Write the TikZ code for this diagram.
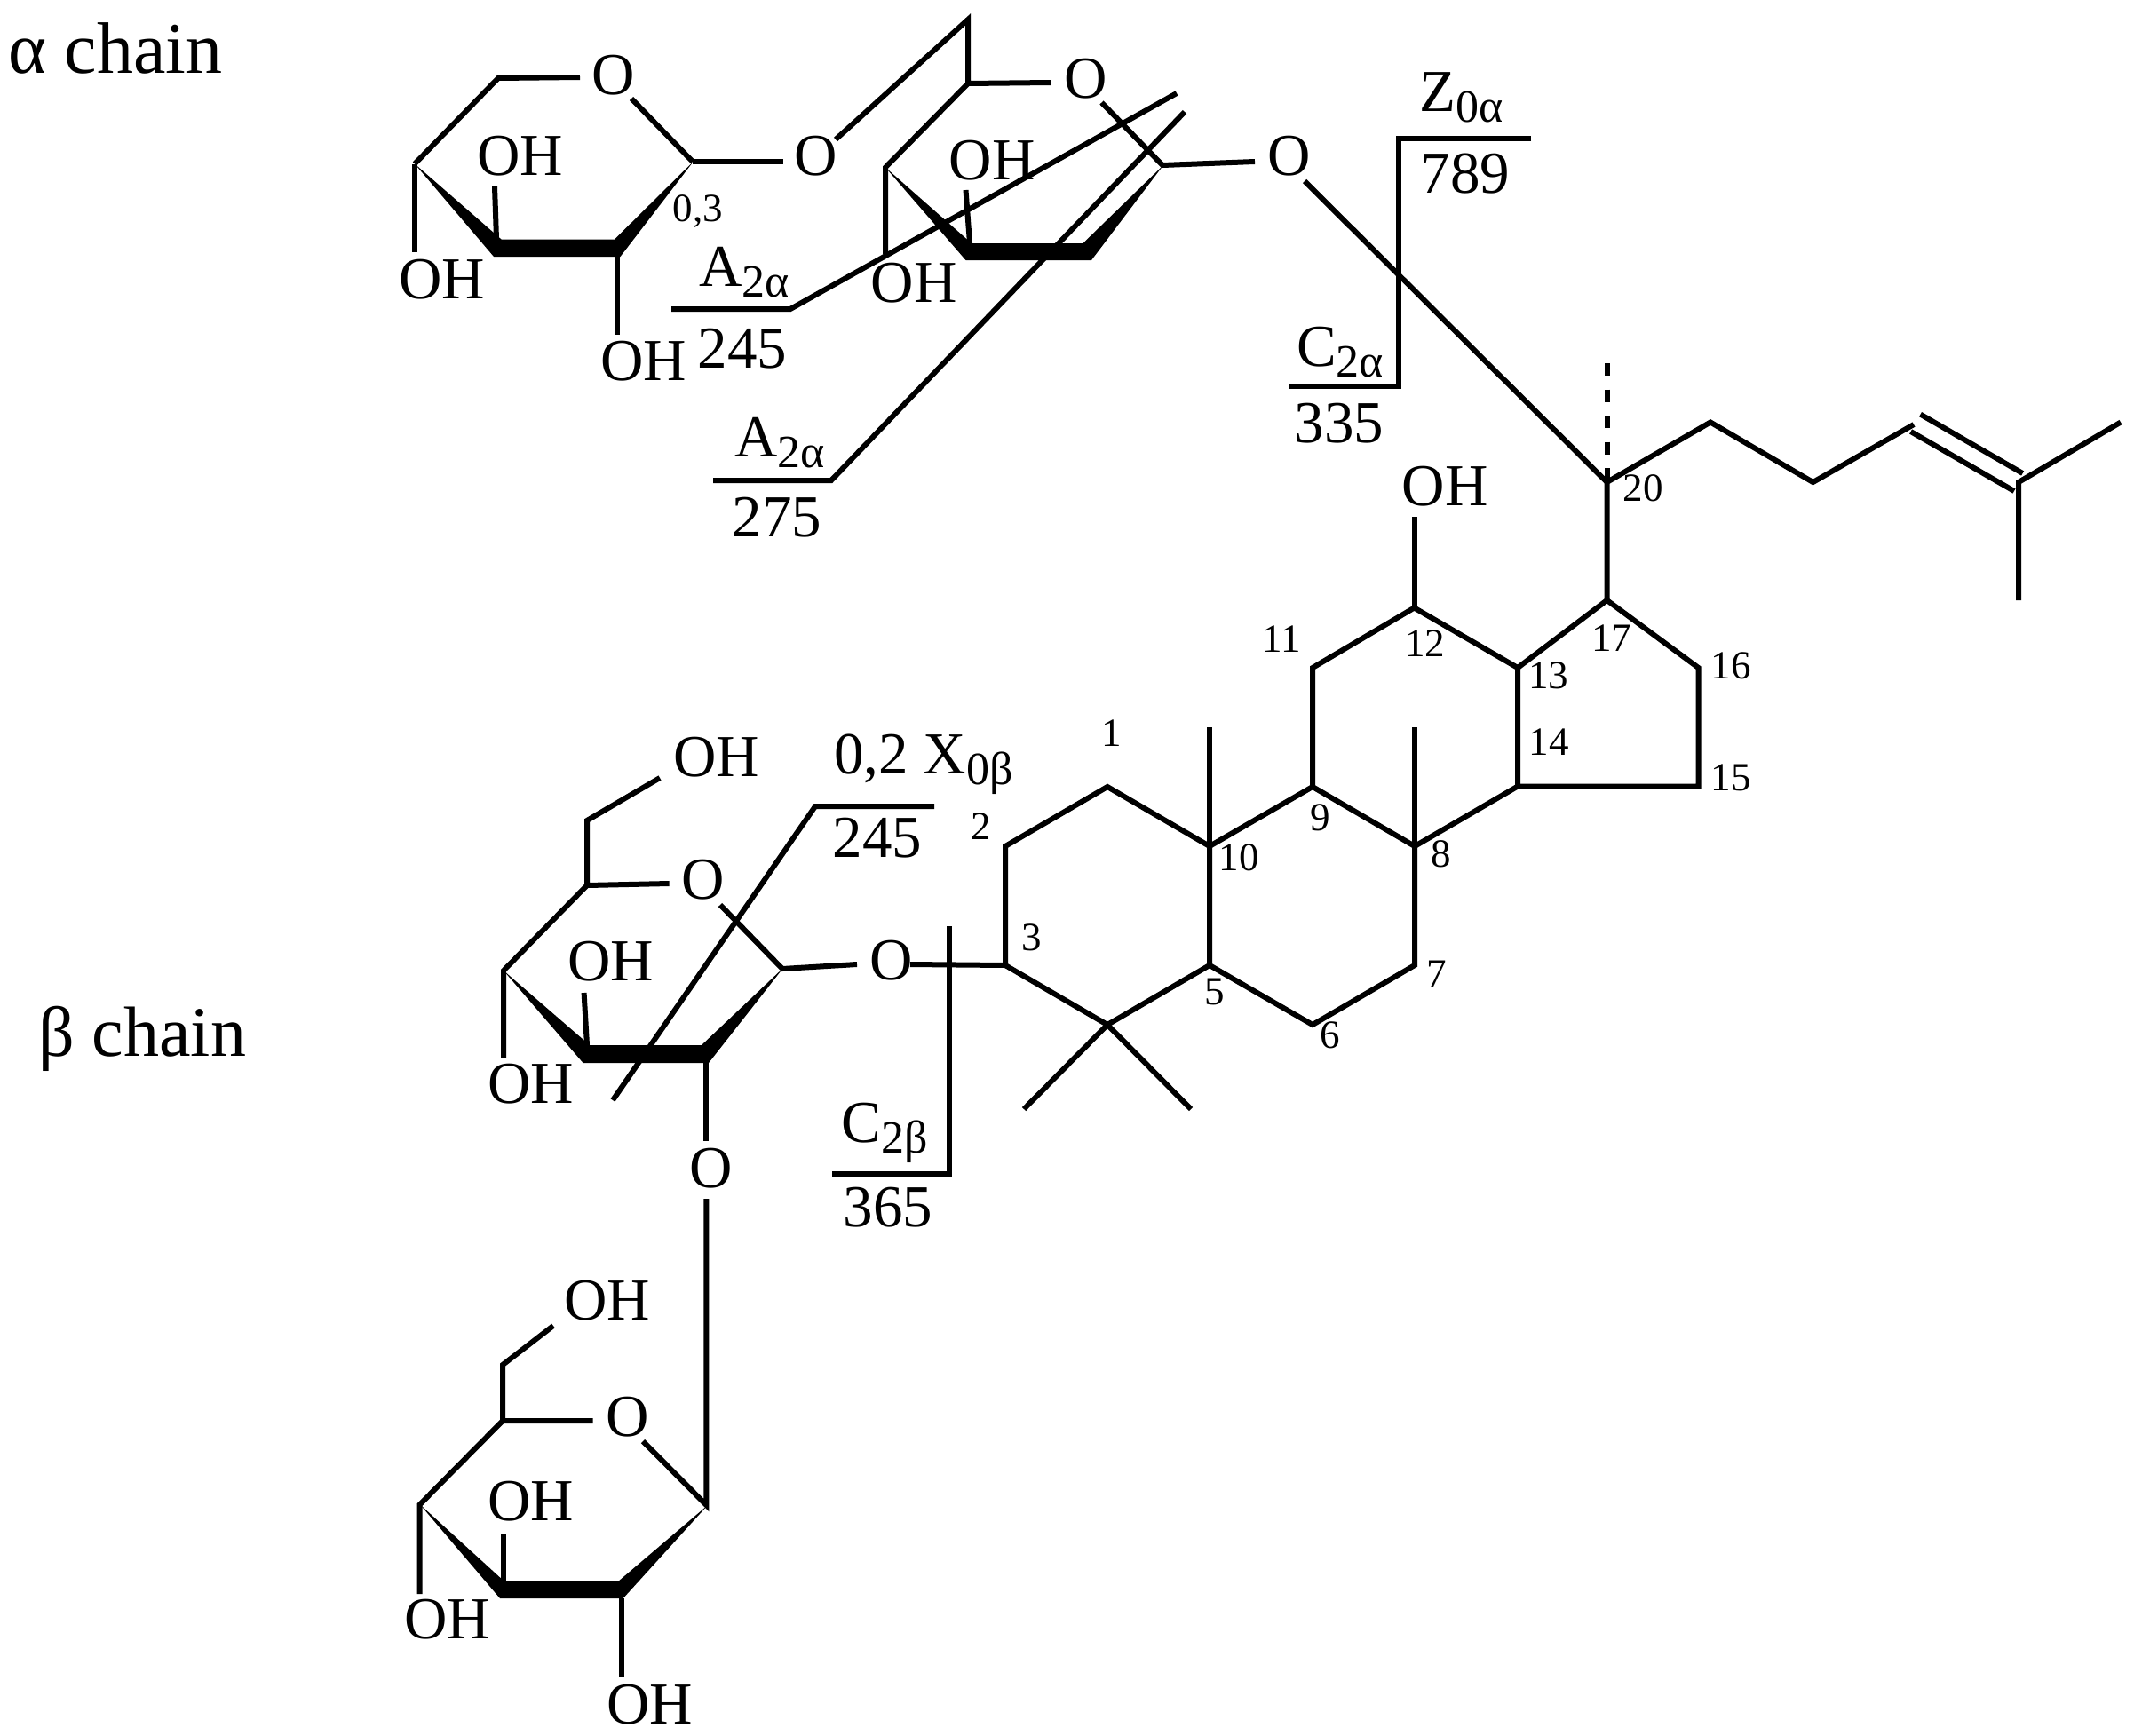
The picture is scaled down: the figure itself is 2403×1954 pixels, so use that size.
\documentclass[tikz,border=0pt]{standalone}
\usepackage{fontspec}
\setmainfont{Liberation Serif}
\newcommand{\fsz}[1]{\fontsize{#1}{#1}\selectfont}
\newcommand{\lowsub}[1]{{\fsz{52}\raisebox{-12pt}{#1}}}
\tikzset{
  bond/.style={line width=6pt,line cap=butt,line join=miter,black},
  atom/.style={inner sep=0pt,font=\fsz{67}},
  num/.style={inner sep=0pt,font=\fsz{45}},
  chainlabel/.style={inner sep=0pt,anchor=base west}
}
\begin{document}
\begin{tikzpicture}[x=1pt,y=-1pt]
\useasboundingbox (0,0) rectangle (2403,1954);
% ---------- chain labels
\node[chainlabel,font=\fsz{82}] (alab) at (9,82) {α chain};
\node[chainlabel,font=\fsz{80}] (blab) at (43,1189) {β chain};
% ---------- terminal alpha sugar
\coordinate (a1) at (561,88);
\coordinate (a1o) at (653,87);
\coordinate (ao2) at (711,111);
\coordinate (a2) at (780,182);
\coordinate (a3) at (467,184.5);
\coordinate (a3d) at (467,284);
\coordinate (a4) at (559,269);
\coordinate (a4u) at (557,210);
\coordinate (a5d) at (695,289);
\coordinate (a5e) at (695,377);
\coordinate (a2o) at (881.5,182);
\node[atom] (oa) at (691,85) {O};
\node[atom] (oha1) at (498,315) {OH};
\node[atom] (oha2) at (586,176) {OH};
\node[atom] (oha3) at (725,407) {OH};
\node[num] (n03) at (786,238) {0,3};
\node[atom] (ogl) at (919,176) {O};
\fill[black] (467,184.5) -- (564.5,269.5) -- (692,269.5) -- (781,181.6) -- (698.5,289) -- (556,289) -- cycle;
\draw[bond] (a1o) -- (a1) -- (a3);
\draw[bond] (ao2) -- (a2);
\draw[bond] (a3) -- (a3d);
\draw[bond] (a4u) -- (a4);
\draw[bond] (a5d) -- (a5e);
\draw[bond] (a2) -- (a2o);
% ---------- inner alpha sugar
\coordinate (g1) at (941,157);
\coordinate (g2) at (1090,22);
\coordinate (g3) at (1090,94);
\coordinate (g3o) at (1183,93);
\coordinate (g4) at (997,188.5);
\coordinate (g4d) at (997,286);
\coordinate (go) at (1240.5,115.5);
\coordinate (g5) at (1309,186);
\coordinate (g5o) at (1413,182);
\coordinate (g6u) at (1087.5,214);
\coordinate (g6) at (1092,274);
\node[atom] (ob) at (1223,89) {O};
\node[atom] (ohb1) at (1029,319) {OH};
\node[atom] (ohb2) at (1117,181) {OH};
\node[atom] (oc) at (1452,176) {O};
\fill[black] (997,188.5) -- (1094,274) -- (1219.5,274) -- (1310,186) -- (1229,293) -- (1087.5,293) -- cycle;
\draw[bond] (g1) -- (g2) -- (g3) -- (g3o);
\draw[bond] (g3) -- (g4) -- (g4d);
\draw[bond] (go) -- (g5) -- (g5o);
\draw[bond] (g6u) -- (g6);
% ---------- fragment A2a 245 / 275
\coordinate (f1a) at (756,348);
\coordinate (f1b) at (890,348);
\coordinate (f1c) at (1325,105);
\coordinate (f2a) at (803,541);
\coordinate (f2b) at (936,541);
\coordinate (f2c) at (1334,126);
\draw[bond] (f1a) -- (f1b) -- (f1c);
\draw[bond] (f2a) -- (f2b) -- (f2c);
\node[atom] (lA1) at (838,307) {A\lowsub{2α}};
\node[atom] (v245a) at (836,393) {245};
\node[atom] (lA2) at (878,499) {A\lowsub{2α}};
\node[atom] (v275) at (875,583) {275};
% ---------- Z / C alpha
\coordinate (z1) at (1724,156);
\coordinate (z2) at (1575,156);
\coordinate (z3) at (1575,435);
\coordinate (z4) at (1451,435);
\draw[bond] (z1) -- (z2) -- (z3) -- (z4);
\node[atom] (lZ) at (1646,110) {Z\lowsub{0α}};
\node[atom] (v789) at (1650,196) {789};
\node[atom] (lC) at (1509,397) {C\lowsub{2α}};
\node[atom] (v335) at (1508,477) {335};
\coordinate (oc2) at (1469,204);
% ---------- steroid
\coordinate (c1) at (1247,886);
\coordinate (c2) at (1132,953);
\coordinate (c3) at (1132,1087);
\coordinate (c4) at (1247,1154);
\coordinate (c5) at (1362,1087);
\coordinate (c6) at (1478,1154);
\coordinate (c7) at (1593,1087);
\coordinate (c8) at (1593,953);
\coordinate (c9) at (1478,886);
\coordinate (c10) at (1362,953);
\coordinate (c11) at (1478,752);
\coordinate (c12) at (1592.5,684.5);
\coordinate (c13) at (1709,752);
\coordinate (c14) at (1709,885.5);
\coordinate (c15) at (1912.5,885.5);
\coordinate (c16) at (1912.5,752);
\coordinate (c17) at (1809.5,676);
\coordinate (c20) at (1809.5,543);
\coordinate (me10) at (1362,819);
\coordinate (me8) at (1593,819);
\coordinate (me4a) at (1153,1249);
\coordinate (me4b) at (1341,1249);
\coordinate (oh12) at (1592.5,581.5);
\coordinate (s1) at (1926,475.5);
\coordinate (s2) at (2041.5,543);
\coordinate (s3) at (2155,478);
\coordinate (s4) at (2273,543);
\coordinate (s5) at (2388,475.5);
\coordinate (s6) at (2273,676);
\coordinate (d1a) at (2151.6,486);
\coordinate (d1b) at (2268,553);
\coordinate (d2a) at (2162.5,466.6);
\coordinate (d2b) at (2277.6,533);
\coordinate (dtop) at (1809.5,409);
\draw[bond] (c3) -- (c2) -- (c1) -- (c10) -- (c5) -- (c4) -- (c3);
\draw[bond] (c10) -- (c9) -- (c8) -- (c7) -- (c6) -- (c5);
\draw[bond] (c9) -- (c11) -- (c12) -- (c13) -- (c14) -- (c8);
\draw[bond] (c13) -- (c17) -- (c16) -- (c15) -- (c14);
\draw[bond] (c10) -- (me10);
\draw[bond] (c8) -- (me8);
\draw[bond] (me4a) -- (c4) -- (me4b);
\draw[bond] (c12) -- (oh12);
\draw[bond] (c17) -- (c20) -- (s1) -- (s2) -- (s3);
\draw[bond] (d1a) -- (d1b);
\draw[bond] (d2a) -- (d2b);
\draw[bond] (s5) -- (s4) -- (s6);
\draw[bond] (oc2) -- (c20);
\draw[bond,dash pattern=on 14pt off 15.5pt] (dtop) -- (c20);
\node[atom] (oh12t) at (1627,548) {OH};
\node[num] (n1) at (1252,826) {1};
\node[num] (n2) at (1105,931) {2};
\node[num] (n3) at (1162,1056) {3};
\node[num] (n5) at (1368,1117) {5};
\node[num] (n6) at (1498,1166) {6};
\node[num] (n7) at (1618,1097) {7};
\node[num] (n8) at (1623,962) {8};
\node[num] (n9) at (1487,921) {9};
\node[num] (n10) at (1395,966) {10};
\node[num] (n11) at (1443,720) {11};
\node[num] (n12) at (1604.5,725) {12};
\node[num] (n13) at (1743.5,761) {13};
\node[num] (n14) at (1744,836) {14};
\node[num] (n15) at (1949,876) {15};
\node[num] (n16) at (1949,750) {16};
\node[num] (n17) at (1814.5,719) {17};
\node[num] (n20) at (1850,550) {20};
% ---------- beta inner sugar
\coordinate (b0) at (743,876);
\coordinate (b1) at (661,924);
\coordinate (b2) at (661,997);
\coordinate (b2o) at (753.6,995);
\coordinate (bo2) at (811,1019);
\coordinate (b3) at (881,1091);
\coordinate (b4) at (567,1093);
\coordinate (b4d) at (567,1191);
\coordinate (b5u) at (657.6,1118);
\coordinate (b5) at (661,1177);
\coordinate (b6) at (795.4,1197);
\coordinate (b6d) at (795.4,1285);
\coordinate (b3o) at (965,1086);
\coordinate (bo3) at (1025,1086);
\coordinate (bo4) at (795.4,1350);
\node[atom] (ohc1) at (807,853) {OH};
\node[atom] (oe) at (792,991) {O};
\node[atom] (ohc2) at (598,1221) {OH};
\node[atom] (ohc3) at (688,1083) {OH};
\node[atom] (of) at (801,1316) {O};
\node[atom] (og) at (1004,1082) {O};
\fill[black] (567,1093) -- (664,1177) -- (790,1177) -- (882,1090) -- (798,1197) -- (656.6,1197) -- cycle;
\draw[bond] (b0) -- (b1) -- (b2) -- (b2o);
\draw[bond] (b2) -- (b4) -- (b4d);
\draw[bond] (bo2) -- (b3) -- (b3o);
\draw[bond] (b5u) -- (b5);
\draw[bond] (b6) -- (b6d);
\draw[bond] (bo3) -- (c3);
% fragments beta
\coordinate (x1) at (1052,908);
\coordinate (x2) at (918,908);
\coordinate (x3) at (690,1239);
\coordinate (y1) at (1069,1043);
\coordinate (y2) at (1069,1322);
\coordinate (y3) at (937,1322);
\draw[bond] (x1) -- (x2) -- (x3);
\draw[bond] (y1) -- (y2) -- (y3);
\node[atom] (lX) at (1040,861) {0,2 X\lowsub{0β}};
\node[atom] (v245b) at (988,944) {245};
\node[atom] (lCb) at (996,1276) {C\lowsub{2β}};
\node[atom] (v365) at (1000,1360) {365};
% ---------- beta terminal sugar
\coordinate (t0) at (623,1493);
\coordinate (t1) at (566,1537);
\coordinate (t2) at (566,1600);
\coordinate (t2o) at (667.7,1600);
\coordinate (to2) at (724,1623);
\coordinate (t3) at (795.4,1695);
\coordinate (t4) at (472.7,1694.4);
\coordinate (t4d) at (472.7,1795);
\coordinate (t5u) at (566.7,1727);
\coordinate (t5) at (566.7,1781);
\coordinate (t6) at (700,1800);
\coordinate (t6d) at (700,1889);
\node[atom] (ohd1) at (684,1465) {OH};
\node[atom] (oh) at (707,1596) {O};
\node[atom] (ohd2) at (504,1824) {OH};
\node[atom] (ohd3) at (598,1691) {OH};
\node[atom] (ohd4) at (732,1920) {OH};
\fill[black] (472.7,1694) -- (568,1781) -- (696,1781) -- (797,1695) -- (701.7,1800) -- (563,1800) -- cycle;
\draw[bond] (t0) -- (t1) -- (t2) -- (t2o);
\draw[bond] (t2) -- (t4) -- (t4d);
\draw[bond] (to2) -- (t3) -- (bo4);
\draw[bond] (t5u) -- (t5);
\draw[bond] (t6) -- (t6d);
\end{tikzpicture}
\end{document}
